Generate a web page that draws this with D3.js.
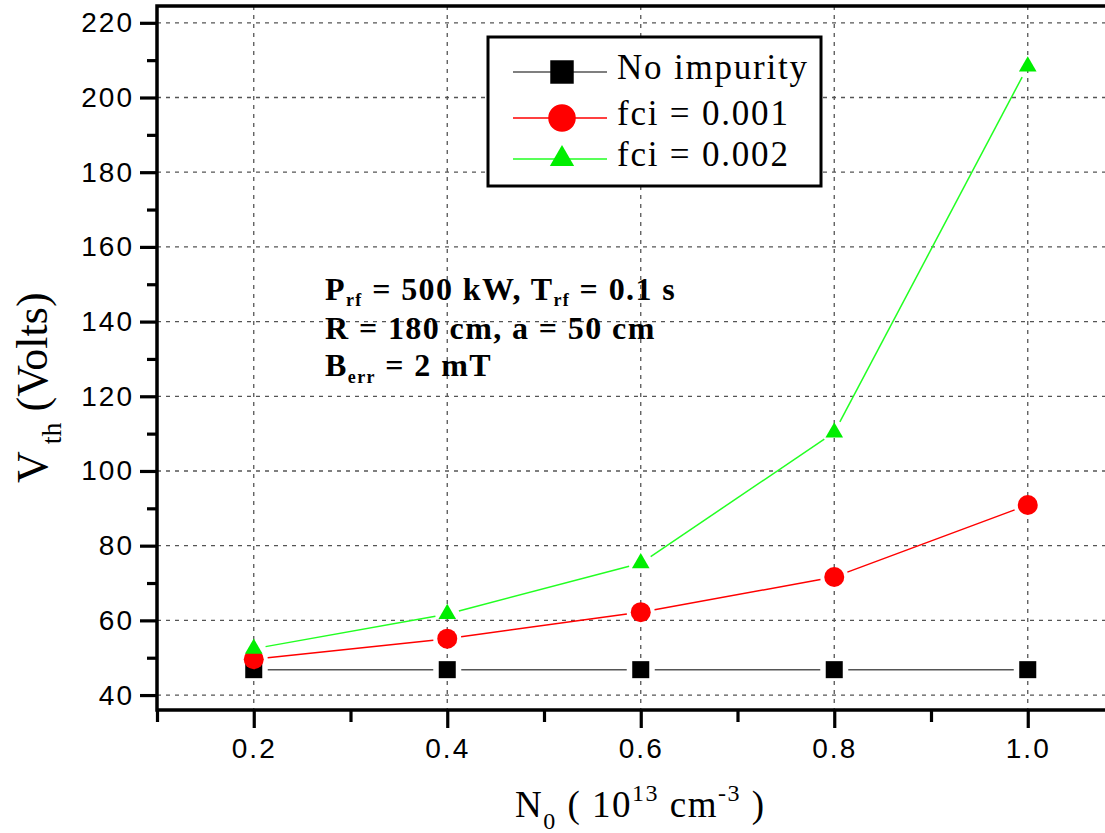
<!DOCTYPE html>
<html>
<head>
	<title>Threshold voltage</title>
	<script src="https://d3js.org/d3.v7.min.js"></script>
	<style type="text/css">
		body { margin: 0; background: #fff; }
		.tick-label { font-family: "Liberation Sans", Arial; font-size: 28px; letter-spacing: 2px; }
		.serif { font-family: "Liberation Serif", "Times New Roman"; }
	</style>
</head>
<body>
<div id="chart"></div>
	<script type="text/javascript">
	// data
	var densities = [0.2, 0.4, 0.6, 0.8, 1.0];
	var noImpurity = [46.8, 46.8, 46.8, 46.8, 46.8];
	var fci001 = [49.6, 55.1, 62.2, 71.6, 90.9];
	var fci002 = [52.4, 61.7, 75.3, 110.3, 208.3];
	var seriesNames = ['No impurity', 'fci = 0.001', 'fci = 0.002'];
	var xTicks = [0.2, 0.4, 0.6, 0.8, 1.0];
	var yTicks = [40, 60, 80, 100, 120, 140, 160, 180, 200, 220];

	var width = 1105,
		height = 833;

	var svg = d3.select('#chart')
		.append('svg')
		.attr('width', width)
		.attr('height', height);

	var x = d3.scaleLinear().domain([0.1, 1.2]).range([157, 157 + 1.1 * 967.5]);
	var y = d3.scaleLinear().domain([36, 224.5]).range([710, 6]);

	var plotLeft = x(0.1), plotBottom = y(36), plotTop = y(224.5);

	// grid
	var grid = svg.append('g')
		.attr('stroke', '#555')
		.attr('stroke-width', 1.3)
		.attr('stroke-dasharray', '4,5');
	grid.selectAll('line.gx')
		.data(xTicks)
		.enter()
		.append('line')
		.attr('x1', function(d) { return x(d); })
		.attr('x2', function(d) { return x(d); })
		.attr('y1', plotTop)
		.attr('y2', plotBottom);
	grid.selectAll('line.gy')
		.data(yTicks)
		.enter()
		.append('line')
		.attr('x1', plotLeft)
		.attr('x2', width)
		.attr('y1', function(d) { return y(d); })
		.attr('y2', function(d) { return y(d); });

	var series = [
		{name: seriesNames[0], values: noImpurity, color: '#000', line: '#555', symbol: d3.symbolSquare, size: 290, gap: 14},
		{name: seriesNames[1], values: fci001, color: '#ff0000', line: '#ff0000', symbol: d3.symbolCircle, size: 314, gap: 14},
		{name: seriesNames[2], values: fci002, color: '#00ee00', line: '#22ff22', symbol: d3.symbolTriangle, size: 135, gap: 12}
	];

	// connecting lines, with a small gap round each marker
	series.forEach(function(s) {
		var pts = densities.map(function(d, i) { return [x(d), y(s.values[i])]; });
		var segs = d3.pairs(pts);
		svg.append('g').selectAll('line')
			.data(segs)
			.enter()
			.append('line')
			.attr('stroke', s.line)
			.attr('stroke-width', 1.5)
			.each(function(p) {
				var dx = p[1][0] - p[0][0], dy = p[1][1] - p[0][1];
				var len = Math.sqrt(dx * dx + dy * dy);
				var ux = dx / len, uy = dy / len;
				d3.select(this)
					.attr('x1', p[0][0] + ux * s.gap)
					.attr('y1', p[0][1] + uy * s.gap)
					.attr('x2', p[1][0] - ux * s.gap)
					.attr('y2', p[1][1] - uy * s.gap);
			});
	});

	// markers
	series.forEach(function(s) {
		svg.append('g').selectAll('path')
			.data(s.values)
			.enter()
			.append('path')
			.attr('d', d3.symbol().type(s.symbol).size(s.size))
			.attr('transform', function(d, i) { return 'translate(' + x(densities[i]) + ',' + y(d) + ')'; })
			.attr('fill', s.color);
	});

	// axes
	var yAxis = d3.axisLeft(y).tickValues(yTicks).tickSize(17).tickPadding(6).tickFormat(d3.format('d'));
	svg.append('g').attr('transform', 'translate(' + plotLeft + ',0)').call(yAxis);
	var yMinor = d3.axisLeft(y).tickValues(d3.range(50, 224, 20)).tickSize(10).tickFormat('');
	svg.append('g').attr('transform', 'translate(' + plotLeft + ',0)').call(yMinor);

	var xAxis = d3.axisBottom(x).tickValues(xTicks).tickSize(18).tickPadding(10).tickFormat(d3.format('.1f'));
	svg.append('g').attr('transform', 'translate(0,' + plotBottom + ')').call(xAxis);
	var xMinor = d3.axisBottom(x).tickValues([0.1, 0.3, 0.5, 0.7, 0.9, 1.1]).tickSize(12).tickFormat('');
	svg.append('g').attr('transform', 'translate(0,' + plotBottom + ')').call(xMinor);

	svg.selectAll('.domain').remove();
	svg.selectAll('.tick line').attr('stroke', '#000').attr('stroke-width', 3.2);
	svg.selectAll('.tick text').attr('class', 'tick-label').attr('fill', '#000');

	// frame: left, bottom, top
	svg.append('path')
		.attr('d', 'M' + width + ',' + plotTop + 'H' + plotLeft + 'V' + plotBottom + 'H' + width)
		.attr('fill', 'none')
		.attr('stroke', '#000')
		.attr('stroke-width', 3.5);

	// legend
	var legend = svg.append('g');
	legend.append('rect')
		.attr('x', 488).attr('y', 37)
		.attr('width', 333).attr('height', 149)
		.attr('fill', '#fff')
		.attr('stroke', '#000')
		.attr('stroke-width', 3);
	var rowY = [72, 118, 159];
	var rows = legend.selectAll('g.row')
		.data(series)
		.enter()
		.append('g')
		.attr('transform', function(d, i) { return 'translate(0,' + rowY[i] + ')'; });
	rows.append('line')
		.attr('x1', 513).attr('x2', 607)
		.attr('y1', 0).attr('y2', 0)
		.attr('stroke', function(d) { return d.line; })
		.attr('stroke-width', 1.5);
	rows.append('path')
		.attr('d', function(d) { return d3.symbol().type(d.symbol).size(d.size * 1.9)(); })
		.attr('transform', 'translate(562,0)')
		.attr('fill', function(d) { return d.color; });
	rows.append('text')
		.attr('class', 'serif')
		.attr('x', 617)
		.attr('y', 7)
		.attr('font-size', 35)
		.attr('letter-spacing', 1.8)
		.text(function(d) { return d.name; });

	// annotation, one text per line
	var note = svg.append('g')
		.attr('class', 'serif')
		.attr('font-weight', 'bold')
		.attr('font-size', 32)
		.attr('letter-spacing', 1.4);
	var l1 = note.append('text').attr('x', 325).attr('y', 300);
	l1.append('tspan').text('P');
	l1.append('tspan').attr('font-size', 18).attr('dy', 6).text('rf');
	l1.append('tspan').attr('dy', -6).text(' = 500 kW, T');
	l1.append('tspan').attr('font-size', 18).attr('dy', 6).text('rf');
	l1.append('tspan').attr('dy', -6).text(' = 0.1 s');
	note.append('text').attr('x', 325).attr('y', 339).text('R = 180 cm, a = 50 cm');
	var l3 = note.append('text').attr('x', 325).attr('y', 376);
	l3.append('tspan').text('B');
	l3.append('tspan').attr('font-size', 18).attr('dy', 7).text('err');
	l3.append('tspan').attr('dy', -7).text(' = 2 mT');

	// axis titles
	var xt = svg.append('text')
		.attr('class', 'serif')
		.attr('font-size', 37)
		.attr('letter-spacing', 1.5)
		.attr('x', 515)
		.attr('y', 817);
	xt.append('tspan').text('N');
	xt.append('tspan').attr('font-size', 24).attr('dy', 12).text('0');
	xt.append('tspan').attr('dy', -12).text(' ( 10');
	xt.append('tspan').attr('font-size', 24).attr('dy', -16).text('13');
	xt.append('tspan').attr('dy', 16).text(' cm');
	xt.append('tspan').attr('font-size', 24).attr('dy', -16).text('-3');
	xt.append('tspan').attr('dy', 16).text(' )');

	var yt = svg.append('text')
		.attr('class', 'serif')
		.attr('font-size', 44)
		.attr('transform', 'translate(47,483) rotate(-90)');
	yt.append('tspan').text('V');
	yt.append('tspan').attr('font-size', 28).attr('dy', 14).text(' th');
	yt.append('tspan').attr('dy', -14).text(' (Volts)');
	</script>
</body>
</html>
